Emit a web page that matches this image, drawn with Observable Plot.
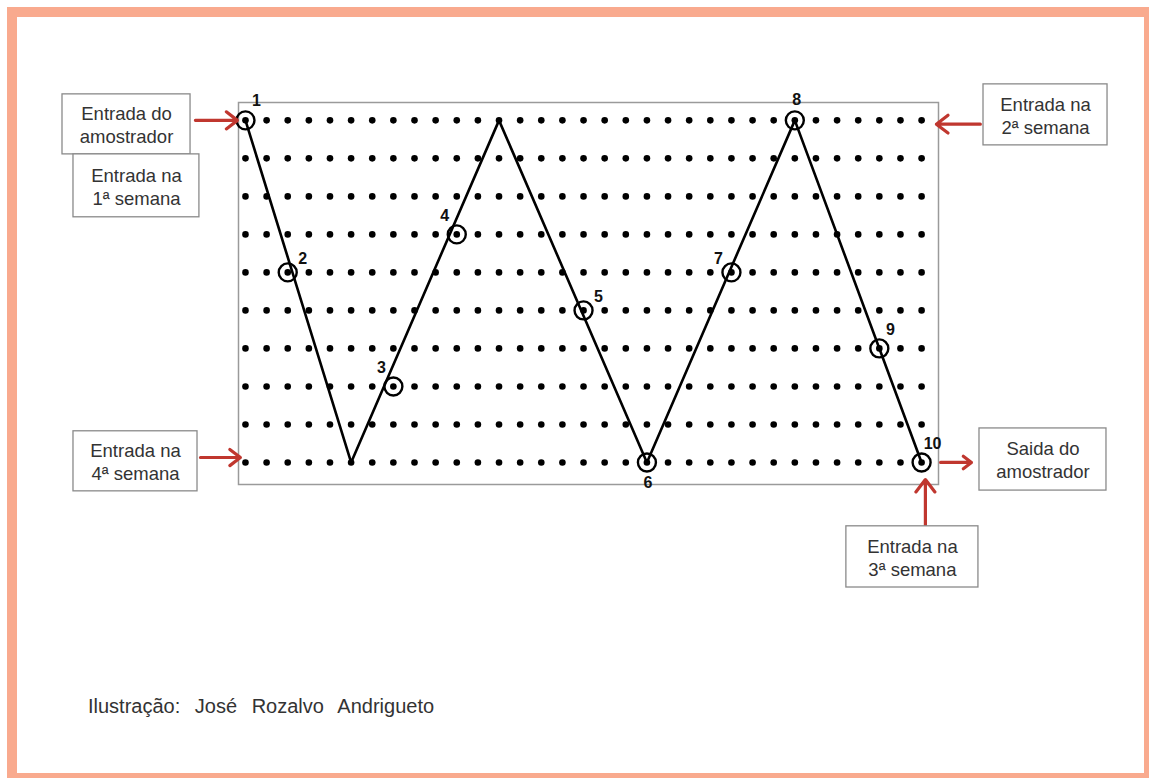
<!DOCTYPE html>
<html>
<head>
<meta charset="utf-8">
<script src="https://cdn.jsdelivr.net/npm/d3@7"></script>
<script src="https://cdn.jsdelivr.net/npm/@observablehq/plot@0.6"></script>
<style>
  html, body { margin: 0; padding: 0; background: #fff; overflow: hidden; }
  #wrap { position: relative; width: 1149px; height: 778px; }
  #border { position: absolute; left: 7px; top: 7px; width: 1127px; height: 756px; border: 10px solid #F9AA8E; }
  #chart { position: absolute; left: 0; top: 0; }
  #chart svg { background: none; }
  #caption { position: absolute; left: 88px; top: 695px; font-family: "Liberation Sans", Arial, sans-serif;
             font-size: 20px; color: #333; word-spacing: 9px; white-space: nowrap; }
</style>
</head>
<body>
<div id="wrap">
  <div id="border"></div>
  <div id="chart"></div>
  <div id="caption">Ilustração: José Rozalvo Andrigueto</div>
</div>
<script>
// grid of sampling holes (columns x rows)
const gridCols = d3.range(33);
const gridRows = d3.range(10);

// zig-zag path of the sampler (vertices, in column/row units)
const pathCols = [0, 5, 12, 19, 26, 32];
const pathRows = [0, 9, 0, 9, 0, 9];

// sampling stations
const stationLabels = ["1", "2", "3", "4", "5", "6", "7", "8", "9", "10"];
const stationCols   = [0, 2, 7, 10, 16, 19, 23, 26, 30, 32];
const stationRows   = [0, 4, 7, 3, 5, 9, 4, 0, 6, 9];
const stationSide   = ["ne", "ne2", "nw", "nw", "ne2", "s", "nw2", "n", "ne", "ne"];

// annotation boxes (column/row units)
const boxLabels = ["Entrada do\namostrador", "Entrada na\n1ª semana", "Entrada na\n2ª semana",
                   "Entrada na\n4ª semana", "Saida do\namostrador", "Entrada na\n3ª semana"];
const boxX1 = [-8.66, -8.14, 34.93, -8.14, 34.74, 28.44];
const boxX2 = [-2.60, -2.18, 40.80, -2.27, 40.75, 34.69];
const boxY1 = [-0.684, 0.895, -0.947, 8.18, 8.105, 10.68];
const boxY2 = [0.895, 2.55, 0.658, 9.76, 9.74, 12.29];

// arrows (column/row units)
const arrowX1 = [-2.37, 34.78, -2.13, 32.9, 32.18];
const arrowX2 = [-0.38, 32.70, -0.24, 34.36, 32.18];
const arrowY1 = [0, 0.1, 8.87, 9, 10.68];
const arrowY2 = [0, 0.1, 8.87, 9, 9.45];

const grid = gridCols.flatMap(c => gridRows.map(r => ({c, r})));
const path = pathCols.map((c, i) => ({c, r: pathRows[i]}));
const stations = stationLabels.map((t, i) => ({t, c: stationCols[i], r: stationRows[i], side: stationSide[i]}));
const boxes = boxLabels.map((t, i) => ({t, x1: boxX1[i], x2: boxX2[i], y1: boxY1[i], y2: boxY2[i]}));
const arrows = arrowX1.map((x1, i) => ({x1, x2: arrowX2[i], y1: arrowY1[i], y2: arrowY2[i]}));

const offsets = {ne: [11, -19], ne2: [15, -14], nw: [-12, -19], nw2: [-13, -14], s: [1, 20], n: [2, -20]};

const labelMarks = Object.entries(offsets).map(([side, [dx, dy]]) =>
  Plot.text(stations.filter(d => d.side === side), {
    x: "c", y: "r", text: "t", dx, dy, fontSize: 16, fontWeight: "bold", fill: "#111"
  })
);

const chart = Plot.plot({
  width: 1149,
  height: 778,
  marginLeft: 238,
  marginRight: 211,
  marginTop: 102,
  marginBottom: 294,
  style: {fontFamily: "'Liberation Sans', Arial, sans-serif", background: "none"},
  x: {domain: [-0.33, 32.8], axis: null},
  y: {domain: [-0.47, 9.58], reverse: true, axis: null},
  marks: [
    Plot.frame({stroke: "#9a9a9a", strokeWidth: 1.5}),
    Plot.dot(grid, {x: "c", y: "r", r: 3.3, fill: "#000", stroke: null}),
    Plot.line(path, {x: "c", y: "r", stroke: "#000", strokeWidth: 2.6}),
    Plot.dot(stations, {x: "c", y: "r", r: 9, stroke: "#000", strokeWidth: 2.4, fill: "none"}),
    ...labelMarks,
    Plot.arrow(arrows, {x1: "x1", y1: "y1", x2: "x2", y2: "y2", stroke: "#c0372f", strokeWidth: 3.2, headLength: 11, headAngle: 75}),
    Plot.rect(boxes, {x1: "x1", x2: "x2", y1: "y1", y2: "y2", fill: "white", stroke: "#8a8a8a", strokeWidth: 1.3}),
    Plot.text(boxes, {x: d => (d.x1 + d.x2) / 2, y: d => (d.y1 + d.y2) / 2, text: "t",
                      fontSize: 18.5, fill: "#333", lineHeight: 1.25})
  ]
});
document.getElementById("chart").appendChild(chart);
</script>
</body>
</html>
